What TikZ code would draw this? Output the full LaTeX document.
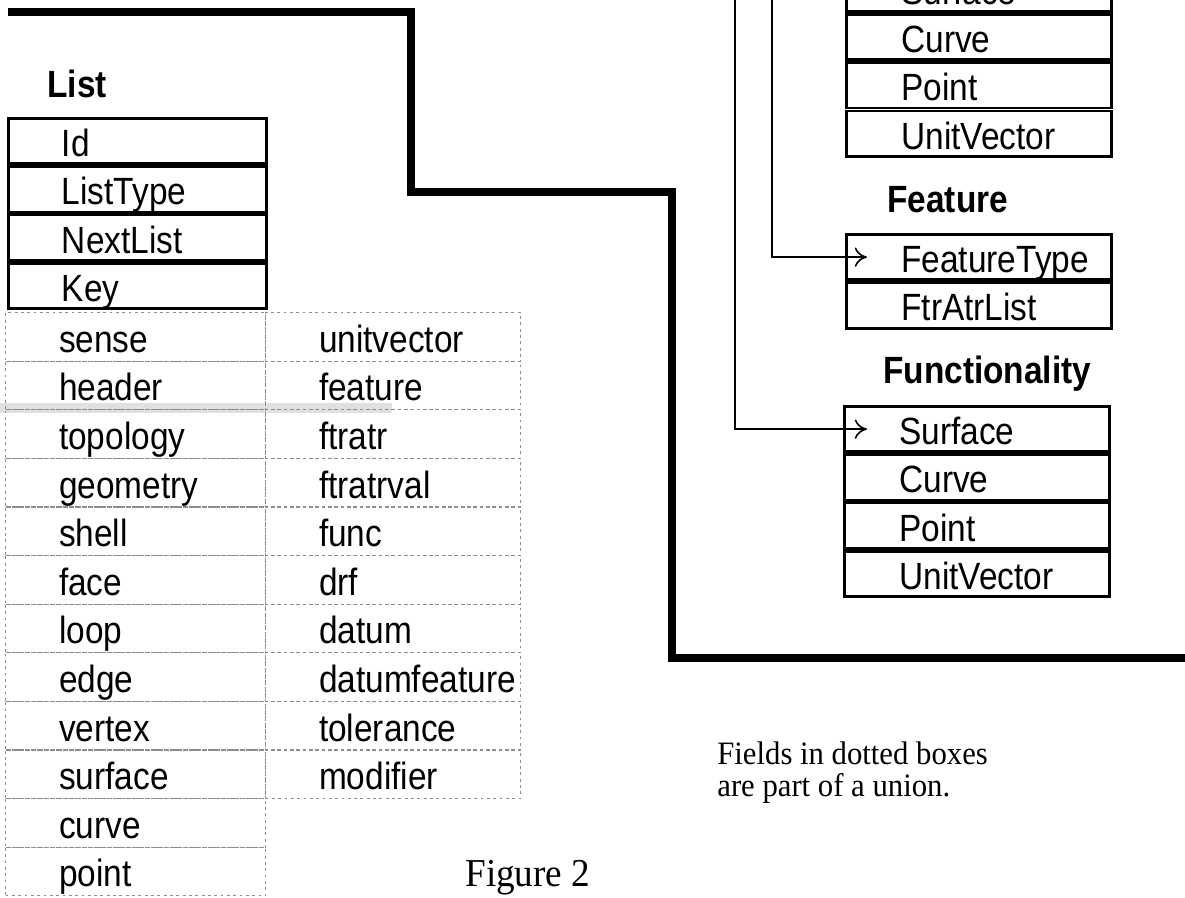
\documentclass[tikz,border=0pt]{standalone}
\usepackage{fontspec}
\setmainfont{Liberation Serif}[FakeStretch=0.94]
\setsansfont{Liberation Sans}[FakeStretch=0.88]
\usetikzlibrary{arrows.meta}

\begin{document}
\begin{tikzpicture}[x=0.02cm, y=-0.02cm, >={To[length=7pt, width=11pt]},
        field/.style={draw, line width=1.6pt, anchor=north west, minimum width=5.16cm,
            minimum height=0.965cm-1.6pt, text width=5.16cm, inner xsep=0pt, align=left,
            font=\sffamily\fontsize{21.6}{22}\selectfont, text height=17.5pt, text depth=0pt,
            execute at begin node=\hspace*{#1}},
        field/.default=1.07cm,
        wfield/.style={field=1.1cm, minimum width=5.3cm, text width=5.3cm},
        ufield/.style={field, draw=black!45, dotted, line width=0.7pt, minimum height=0.972cm},
        title/.style={anchor=base west, inner sep=0pt, font=\sffamily\bfseries\fontsize{21.6}{22}\selectfont},
        frame/.style={line width=4.5pt},
        link/.style={line width=0.9pt}]
            \clip (0,0) rectangle (1185,897);
            % Thick frame
            \draw[frame] (8,12) -- (411,12) -- (411,192) -- (672,192) -- (672,658) -- (1200,658);
            % List
            \foreach \t [count=\i from 0] in {Id, ListType, NextList, Key} {
                    \node[field] (list\i) at (7, {117+48.25*\i}) {\t};
                }
            \node[title] (listtitle) at ([shift={(40,-20)}]list0.north west) {List};
            % Union fields
            \fill[black!12] (0,403) rectangle (392,413);
            \foreach \t [count=\i from 0] in {sense, header, topology, geometry, shell, face, loop, edge, vertex, surface, curve, point} {
                    \node[ufield, minimum width=5.2cm, text width=5.2cm] (ua\i) at (5, {312+48.6*\i}) {\t};
                }
            \foreach \t [count=\i from 0] in {unitvector, feature, ftratr, ftratrval, func, drf, datum, datumfeature, tolerance, modifier} {
                    \node[ufield, minimum width=5.1cm, text width=5.1cm] (ub\i) at (265, {312+48.6*\i}) {\t};
                }
            % Geometry references
            \foreach \t [count=\i from 0] in {Surface, Curve, Point, UnitVector} {
                    \node[wfield] (upper\i) at (845, {-35.25+48.25*\i}) {\t};
                }
            % Feature
            \foreach \t [count=\i from 0] in {FeatureType, FtrAtrList} {
                    \node[wfield] (ftr\i) at (845, {233+48.25*\i}) {\t};
                }
            \node[title] (ftrtitle) at ([shift={(42,-21)}]ftr0.north west) {Feature};
            % Functionality
            \foreach \t [count=\i from 0] in {Surface, Curve, Point, UnitVector} {
                    \node[wfield] (func\i) at (843, {405+48.25*\i}) {\t};
                }
            \node[title] (functitle) at ([shift={(40,-22)}]func0.north west) {Functionality};
            % Pointers
            \coordinate (ftrsrc) at (772,-10);
            \coordinate (funcsrc) at (735,-10);
            \draw[link, ->] (ftrsrc) |- ([xshift=0.44cm]ftr0.west);
            \draw[link, ->] (funcsrc) |- ([xshift=0.48cm]func0.west);
            % Notes
            \node[anchor=north west, inner sep=0pt, align=left, font=\fontsize{18.6}{18.2}\selectfont] (note) at (717,741) {Fields in dotted boxes\\are part of a union.};
            \node[anchor=base west, inner sep=0pt, font=\fontsize{22.5}{24}\selectfont] (caption) at (465,886) {Figure 2};
        \end{tikzpicture}
\end{document}
